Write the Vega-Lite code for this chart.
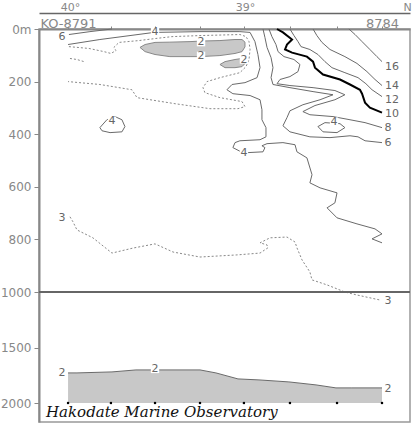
{
"$schema":"https://vega.github.io/schema/vega-lite/v6.json",
"width":371,"height":393,
"autosize":{"type":"none"},
"padding":{"left":39,"top":29,"right":2,"bottom":2},
"background":"white",
"config":{"view":{"stroke":"#999","strokeWidth":1.5},"axis":{"labelFont":"DejaVu Sans"}},
"datasets":{
"gray":[
{"id":"c1","lat":39.600,"d":70,"d2":70},{"id":"c1","lat":39.571,"d":59,"d2":86},{"id":"c1","lat":39.514,"d":51,"d2":97},{"id":"c1","lat":39.429,"d":50,"d2":105},{"id":"c1","lat":39.314,"d":48,"d2":105},{"id":"c1","lat":39.257,"d":46,"d2":105},{"id":"c1","lat":39.143,"d":44,"d2":101},{"id":"c1","lat":39.057,"d":40,"d2":93},{"id":"c1","lat":39.017,"d":40,"d2":86},{"id":"c1","lat":39.000,"d":50,"d2":68},
{"id":"c2","lat":39.143,"d":135,"d2":135},{"id":"c2","lat":39.114,"d":124,"d2":147},{"id":"c2","lat":39.057,"d":116,"d2":147},{"id":"c2","lat":39.017,"d":112,"d2":143},{"id":"c2","lat":39.000,"d":124,"d2":131},
{"id":"bottom","lat":40.011,"d":1729,"d2":2000},{"id":"bottom","lat":39.960,"d":1729,"d2":2000},{"id":"bottom","lat":39.760,"d":1720,"d2":2000},{"id":"bottom","lat":39.623,"d":1702,"d2":2000},{"id":"bottom","lat":39.531,"d":1702,"d2":2000},{"id":"bottom","lat":39.257,"d":1702,"d2":2000},{"id":"bottom","lat":39.166,"d":1729,"d2":2000},{"id":"bottom","lat":39.040,"d":1783,"d2":2000},{"id":"bottom","lat":38.920,"d":1792,"d2":2000},{"id":"bottom","lat":38.749,"d":1810,"d2":2000},{"id":"bottom","lat":38.594,"d":1837,"d2":2000},{"id":"bottom","lat":38.480,"d":1864,"d2":2000},{"id":"bottom","lat":38.389,"d":1864,"d2":2000},{"id":"bottom","lat":38.217,"d":1864,"d2":2000}
],
"contours":[
{"c":"6a","v":6,"o":1,"lat":40.006,"d":21},{"c":"6a","v":6,"o":2,"lat":39.886,"d":10},{"c":"6a","v":6,"o":3,"lat":39.760,"d":0},
{"c":"4a","v":4,"o":1,"lat":40.011,"d":59},{"c":"4a","v":4,"o":2,"lat":39.829,"d":40},{"c":"4a","v":4,"o":3,"lat":39.657,"d":25},{"c":"4a","v":4,"o":4,"lat":39.520,"d":13},{"c":"4a","v":4,"o":5,"lat":39.257,"d":10},{"c":"4a","v":4,"o":6,"lat":39.029,"d":10},{"c":"4a","v":4,"o":7,"lat":38.971,"d":13},{"c":"4a","v":4,"o":8,"lat":38.943,"d":48},{"c":"4a","v":4,"o":9,"lat":38.926,"d":97},{"c":"4a","v":4,"o":10,"lat":38.914,"d":147},{"c":"4a","v":4,"o":11,"lat":38.931,"d":185},{"c":"4a","v":4,"o":12,"lat":39.000,"d":204},{"c":"4a","v":4,"o":13,"lat":39.074,"d":211},{"c":"4a","v":4,"o":14,"lat":39.103,"d":231},{"c":"4a","v":4,"o":15,"lat":39.069,"d":246},{"c":"4a","v":4,"o":16,"lat":38.971,"d":253},{"c":"4a","v":4,"o":17,"lat":38.914,"d":269},{"c":"4a","v":4,"o":18,"lat":38.903,"d":307},{"c":"4a","v":4,"o":19,"lat":38.903,"d":345},{"c":"4a","v":4,"o":20,"lat":38.880,"d":375},{"c":"4a","v":4,"o":21,"lat":38.880,"d":410},{"c":"4a","v":4,"o":22,"lat":38.914,"d":421},{"c":"4a","v":4,"o":23,"lat":39.029,"d":425},{"c":"4a","v":4,"o":24,"lat":39.057,"d":432},{"c":"4a","v":4,"o":25,"lat":39.069,"d":451},{"c":"4a","v":4,"o":26,"lat":39.011,"d":471},{"c":"4a","v":4,"o":27,"lat":38.897,"d":467},{"c":"4a","v":4,"o":28,"lat":38.886,"d":451},{"c":"4a","v":4,"o":29,"lat":38.903,"d":444},{"c":"4a","v":4,"o":30,"lat":38.874,"d":436},{"c":"4a","v":4,"o":31,"lat":38.783,"d":432},{"c":"4a","v":4,"o":32,"lat":38.714,"d":440},{"c":"4a","v":4,"o":33,"lat":38.703,"d":467},{"c":"4a","v":4,"o":34,"lat":38.646,"d":490},{"c":"4a","v":4,"o":35,"lat":38.617,"d":554},{"c":"4a","v":4,"o":36,"lat":38.629,"d":585},{"c":"4a","v":4,"o":37,"lat":38.571,"d":604},{"c":"4a","v":4,"o":38,"lat":38.474,"d":623},{"c":"4a","v":4,"o":39,"lat":38.486,"d":661},{"c":"4a","v":4,"o":40,"lat":38.531,"d":680},{"c":"4a","v":4,"o":41,"lat":38.474,"d":718},{"c":"4a","v":4,"o":42,"lat":38.360,"d":741},{"c":"4a","v":4,"o":43,"lat":38.257,"d":760},{"c":"4a","v":4,"o":44,"lat":38.217,"d":779},{"c":"4a","v":4,"o":45,"lat":38.274,"d":798},{"c":"4a","v":4,"o":46,"lat":38.217,"d":813},
{"c":"4r","v":4,"o":1,"lat":38.583,"d":371},{"c":"4r","v":4,"o":2,"lat":38.543,"d":356},{"c":"4r","v":4,"o":3,"lat":38.457,"d":360},{"c":"4r","v":4,"o":4,"lat":38.429,"d":375},{"c":"4r","v":4,"o":5,"lat":38.474,"d":394},{"c":"4r","v":4,"o":6,"lat":38.554,"d":391},{"c":"4r","v":4,"o":7,"lat":38.583,"d":371},
{"c":"4l","v":4,"o":1,"lat":39.829,"d":375},{"c":"4l","v":4,"o":2,"lat":39.789,"d":345},{"c":"4l","v":4,"o":3,"lat":39.743,"d":333},{"c":"4l","v":4,"o":4,"lat":39.703,"d":345},{"c":"4l","v":4,"o":5,"lat":39.686,"d":371},{"c":"4l","v":4,"o":6,"lat":39.703,"d":391},{"c":"4l","v":4,"o":7,"lat":39.771,"d":394},{"c":"4l","v":4,"o":8,"lat":39.817,"d":387},{"c":"4l","v":4,"o":9,"lat":39.829,"d":375},
{"c":"6b","v":6,"o":1,"lat":38.897,"d":0},{"c":"6b","v":6,"o":2,"lat":38.886,"d":32},{"c":"6b","v":6,"o":3,"lat":38.874,"d":70},{"c":"6b","v":6,"o":4,"lat":38.851,"d":109},{"c":"6b","v":6,"o":5,"lat":38.840,"d":147},{"c":"6b","v":6,"o":6,"lat":38.851,"d":185},{"c":"6b","v":6,"o":7,"lat":38.840,"d":211},{"c":"6b","v":6,"o":8,"lat":38.743,"d":223},{"c":"6b","v":6,"o":9,"lat":38.611,"d":238},{"c":"6b","v":6,"o":10,"lat":38.497,"d":250},{"c":"6b","v":6,"o":11,"lat":38.571,"d":269},{"c":"6b","v":6,"o":12,"lat":38.669,"d":288},{"c":"6b","v":6,"o":13,"lat":38.743,"d":311},{"c":"6b","v":6,"o":14,"lat":38.760,"d":337},{"c":"6b","v":6,"o":15,"lat":38.783,"d":368},{"c":"6b","v":6,"o":16,"lat":38.743,"d":391},{"c":"6b","v":6,"o":17,"lat":38.629,"d":410},{"c":"6b","v":6,"o":18,"lat":38.514,"d":413},{"c":"6b","v":6,"o":19,"lat":38.400,"d":406},{"c":"6b","v":6,"o":20,"lat":38.354,"d":410},{"c":"6b","v":6,"o":21,"lat":38.314,"d":425},{"c":"6b","v":6,"o":22,"lat":38.217,"d":432},
{"c":"8","v":8,"o":1,"lat":38.863,"d":0},{"c":"8","v":8,"o":2,"lat":38.846,"d":29},{"c":"8","v":8,"o":3,"lat":38.823,"d":59},{"c":"8","v":8,"o":4,"lat":38.811,"d":86},{"c":"8","v":8,"o":5,"lat":38.777,"d":105},{"c":"8","v":8,"o":6,"lat":38.720,"d":116},{"c":"8","v":8,"o":7,"lat":38.686,"d":135},{"c":"8","v":8,"o":8,"lat":38.697,"d":162},{"c":"8","v":8,"o":9,"lat":38.743,"d":181},{"c":"8","v":8,"o":10,"lat":38.800,"d":192},{"c":"8","v":8,"o":11,"lat":38.817,"d":208},{"c":"8","v":8,"o":12,"lat":38.743,"d":215},{"c":"8","v":8,"o":13,"lat":38.611,"d":223},{"c":"8","v":8,"o":14,"lat":38.486,"d":234},{"c":"8","v":8,"o":15,"lat":38.429,"d":250},{"c":"8","v":8,"o":16,"lat":38.486,"d":269},{"c":"8","v":8,"o":17,"lat":38.600,"d":291},{"c":"8","v":8,"o":18,"lat":38.669,"d":314},{"c":"8","v":8,"o":19,"lat":38.629,"d":326},{"c":"8","v":8,"o":20,"lat":38.497,"d":333},{"c":"8","v":8,"o":21,"lat":38.400,"d":345},{"c":"8","v":8,"o":22,"lat":38.314,"d":356},{"c":"8","v":8,"o":23,"lat":38.217,"d":375},
{"c":"10","v":10,"o":1,"lat":38.817,"d":0},{"c":"10","v":10,"o":2,"lat":38.783,"d":13},{"c":"10","v":10,"o":3,"lat":38.731,"d":40},{"c":"10","v":10,"o":4,"lat":38.760,"d":59},{"c":"10","v":10,"o":5,"lat":38.771,"d":78},{"c":"10","v":10,"o":6,"lat":38.731,"d":90},{"c":"10","v":10,"o":7,"lat":38.646,"d":105},{"c":"10","v":10,"o":8,"lat":38.611,"d":124},{"c":"10","v":10,"o":9,"lat":38.600,"d":147},{"c":"10","v":10,"o":10,"lat":38.554,"d":173},{"c":"10","v":10,"o":11,"lat":38.457,"d":192},{"c":"10","v":10,"o":12,"lat":38.400,"d":211},{"c":"10","v":10,"o":13,"lat":38.343,"d":231},{"c":"10","v":10,"o":14,"lat":38.331,"d":246},{"c":"10","v":10,"o":15,"lat":38.314,"d":280},{"c":"10","v":10,"o":16,"lat":38.286,"d":299},{"c":"10","v":10,"o":17,"lat":38.217,"d":318},
{"c":"12","v":12,"o":1,"lat":38.743,"d":0},{"c":"12","v":12,"o":2,"lat":38.720,"d":25},{"c":"12","v":12,"o":3,"lat":38.697,"d":48},{"c":"12","v":12,"o":4,"lat":38.680,"d":67},{"c":"12","v":12,"o":5,"lat":38.629,"d":78},{"c":"12","v":12,"o":6,"lat":38.583,"d":97},{"c":"12","v":12,"o":7,"lat":38.543,"d":124},{"c":"12","v":12,"o":8,"lat":38.503,"d":147},{"c":"12","v":12,"o":9,"lat":38.429,"d":166},{"c":"12","v":12,"o":10,"lat":38.354,"d":185},{"c":"12","v":12,"o":11,"lat":38.309,"d":208},{"c":"12","v":12,"o":12,"lat":38.274,"d":231},{"c":"12","v":12,"o":13,"lat":38.217,"d":257},
{"c":"14","v":14,"o":1,"lat":38.611,"d":0},{"c":"14","v":14,"o":2,"lat":38.589,"d":25},{"c":"14","v":14,"o":3,"lat":38.560,"d":51},{"c":"14","v":14,"o":4,"lat":38.514,"d":78},{"c":"14","v":14,"o":5,"lat":38.429,"d":105},{"c":"14","v":14,"o":6,"lat":38.360,"d":131},{"c":"14","v":14,"o":7,"lat":38.303,"d":162},{"c":"14","v":14,"o":8,"lat":38.257,"d":192},{"c":"14","v":14,"o":9,"lat":38.217,"d":215},
{"c":"16","v":16,"o":1,"lat":38.406,"d":0},{"c":"16","v":16,"o":2,"lat":38.371,"d":21},{"c":"16","v":16,"o":3,"lat":38.331,"d":48},{"c":"16","v":16,"o":4,"lat":38.286,"d":78},{"c":"16","v":16,"o":5,"lat":38.246,"d":105},{"c":"16","v":16,"o":6,"lat":38.217,"d":124},
{"c":"3a","v":3,"o":1,"lat":40.006,"d":67},{"c":"3a","v":3,"o":2,"lat":39.891,"d":74},{"c":"3a","v":3,"o":3,"lat":39.806,"d":86},{"c":"3a","v":3,"o":4,"lat":39.766,"d":93},{"c":"3a","v":3,"o":5,"lat":39.737,"d":82},{"c":"3a","v":3,"o":6,"lat":39.749,"d":70},{"c":"3a","v":3,"o":7,"lat":39.720,"d":51},{"c":"3a","v":3,"o":8,"lat":39.606,"d":44},{"c":"3a","v":3,"o":9,"lat":39.509,"d":36},{"c":"3a","v":3,"o":10,"lat":39.417,"d":29},{"c":"3a","v":3,"o":11,"lat":39.257,"d":25},{"c":"3a","v":3,"o":12,"lat":39.029,"d":21},{"c":"3a","v":3,"o":13,"lat":38.994,"d":29},{"c":"3a","v":3,"o":14,"lat":38.977,"d":48},{"c":"3a","v":3,"o":15,"lat":38.971,"d":78},{"c":"3a","v":3,"o":16,"lat":38.977,"d":116},{"c":"3a","v":3,"o":17,"lat":38.994,"d":143},{"c":"3a","v":3,"o":18,"lat":39.029,"d":166},{"c":"3a","v":3,"o":19,"lat":39.143,"d":185},{"c":"3a","v":3,"o":20,"lat":39.217,"d":200},{"c":"3a","v":3,"o":21,"lat":39.240,"d":223},{"c":"3a","v":3,"o":22,"lat":39.229,"d":242},{"c":"3a","v":3,"o":23,"lat":39.143,"d":261},{"c":"3a","v":3,"o":24,"lat":39.017,"d":276},{"c":"3a","v":3,"o":25,"lat":39.000,"d":295},{"c":"3a","v":3,"o":26,"lat":39.040,"d":303},{"c":"3a","v":3,"o":27,"lat":39.200,"d":303},{"c":"3a","v":3,"o":28,"lat":39.400,"d":284},{"c":"3a","v":3,"o":29,"lat":39.617,"d":261},{"c":"3a","v":3,"o":30,"lat":39.646,"d":231},{"c":"3a","v":3,"o":31,"lat":39.829,"d":211},{"c":"3a","v":3,"o":32,"lat":40.011,"d":200},
{"c":"3s","v":3,"o":1,"lat":40.000,"d":112},{"c":"3s","v":3,"o":2,"lat":39.960,"d":116},{"c":"3s","v":3,"o":3,"lat":39.920,"d":124},
{"c":"3b","v":3,"o":1,"lat":40.000,"d":714},{"c":"3b","v":3,"o":2,"lat":39.983,"d":733},{"c":"3b","v":3,"o":3,"lat":39.960,"d":764},{"c":"3b","v":3,"o":4,"lat":39.869,"d":794},{"c":"3b","v":3,"o":5,"lat":39.760,"d":852},{"c":"3b","v":3,"o":6,"lat":39.640,"d":833},{"c":"3b","v":3,"o":7,"lat":39.514,"d":817},{"c":"3b","v":3,"o":8,"lat":39.411,"d":848},{"c":"3b","v":3,"o":9,"lat":39.257,"d":867},{"c":"3b","v":3,"o":10,"lat":39.046,"d":859},{"c":"3b","v":3,"o":11,"lat":38.914,"d":852},{"c":"3b","v":3,"o":12,"lat":38.869,"d":832},{"c":"3b","v":3,"o":13,"lat":38.874,"d":821},{"c":"3b","v":3,"o":14,"lat":38.914,"d":813},{"c":"3b","v":3,"o":15,"lat":38.857,"d":794},{"c":"3b","v":3,"o":16,"lat":38.760,"d":791},{"c":"3b","v":3,"o":17,"lat":38.714,"d":810},{"c":"3b","v":3,"o":18,"lat":38.703,"d":832},{"c":"3b","v":3,"o":19,"lat":38.674,"d":878},{"c":"3b","v":3,"o":20,"lat":38.629,"d":924},{"c":"3b","v":3,"o":21,"lat":38.617,"d":954},{"c":"3b","v":3,"o":22,"lat":38.531,"d":973},{"c":"3b","v":3,"o":23,"lat":38.429,"d":1000},{"c":"3b","v":3,"o":24,"lat":38.360,"d":1027},{"c":"3b","v":3,"o":25,"lat":38.229,"d":1072},
{"c":"2b","v":2,"o":1,"lat":40.011,"d":1729},{"c":"2b","v":2,"o":2,"lat":39.960,"d":1729},{"c":"2b","v":2,"o":3,"lat":39.760,"d":1720},{"c":"2b","v":2,"o":4,"lat":39.623,"d":1702},{"c":"2b","v":2,"o":5,"lat":39.531,"d":1702},{"c":"2b","v":2,"o":6,"lat":39.257,"d":1702},{"c":"2b","v":2,"o":7,"lat":39.166,"d":1729},{"c":"2b","v":2,"o":8,"lat":39.040,"d":1783},{"c":"2b","v":2,"o":9,"lat":38.920,"d":1792},{"c":"2b","v":2,"o":10,"lat":38.749,"d":1810},{"c":"2b","v":2,"o":11,"lat":38.594,"d":1837},{"c":"2b","v":2,"o":12,"lat":38.480,"d":1864},{"c":"2b","v":2,"o":13,"lat":38.389,"d":1864},{"c":"2b","v":2,"o":14,"lat":38.217,"d":1864}
],
"labels":[
{"t":"6","lat":40.046,"d":30,"bg":false},{"t":"4","lat":39.514,"d":11,"bg":true},{"t":"2","lat":39.251,"d":50,"bg":true},{"t":"2","lat":39.251,"d":102,"bg":true},{"t":"2","lat":39.006,"d":116,"bg":true},
{"t":"16","lat":38.160,"d":143,"bg":false},{"t":"14","lat":38.160,"d":215,"bg":false},{"t":"12","lat":38.160,"d":269,"bg":false},{"t":"10","lat":38.160,"d":322,"bg":false},{"t":"8","lat":38.183,"d":375,"bg":false},{"t":"6","lat":38.183,"d":432,"bg":false},
{"t":"4","lat":38.491,"d":352,"bg":true},{"t":"4","lat":39.760,"d":349,"bg":true},{"t":"4","lat":39.006,"d":471,"bg":true},
{"t":"3","lat":40.046,"d":718,"bg":false},{"t":"3","lat":38.183,"d":1081,"bg":false},
{"t":"2","lat":40.046,"d":1729,"bg":false},{"t":"2","lat":39.514,"d":1693,"bg":true},{"t":"2","lat":38.183,"d":1873,"bg":false}
],
"stations":[
{"lat":40.011,"d":2000},{"lat":39.766,"d":2000},{"lat":39.514,"d":2000},{"lat":39.257,"d":2000},{"lat":39.006,"d":2000},{"lat":38.743,"d":2000},{"lat":38.474,"d":2000},{"lat":38.217,"d":2000}
],
"rule":[{"lat":40.177,"lat2":38.057,"d":1000}],
"credit":[{"lat":40.137,"d":2126,"t":"Hakodate Marine Observatory"}]
},
"encoding":{
"x":{"field":"lat","type":"quantitative","scale":{"domain":[40.177,38.057],"nice":false,"zero":false},"axis":null},
"y":{"field":"d","type":"quantitative","scale":{"domain":[0,1000,2000,2171],"range":[0,263,374,393],"nice":false,"zero":false},
   "axis":{"orient":"left","values":[0,200,400,600,800,1000,1500,2000],"format":"d",
    "labelExpr":"datum.value == 0 ? '0m' : datum.label",
    "tickSize":5,"tickColor":"#888","domainColor":"#888","domainWidth":2,"labelPadding":3,
    "labelFontSize":12,"labelColor":"#888","grid":false,"title":null,"labelOverlap":false,"labelBound":false,"labelFlush":false}}
},
"resolve":{"axis":{"x":"independent"}},
"layer":[
{"data":{"name":"gray"},"transform":[{"filter":"datum.id != 'bottom'"}],
 "mark":{"type":"area","fill":"#c8c8c8","stroke":"#888","strokeWidth":1},
 "encoding":{"y2":{"field":"d2"},"detail":{"field":"id"}}},
{"data":{"name":"gray"},"transform":[{"filter":"datum.id == 'bottom'"}],
 "mark":{"type":"area","fill":"#c8c8c8"},
 "encoding":{"y2":{"field":"d2"}}},
{"data":{"name":"contours"},"transform":[{"filter":"datum.v != 3 && datum.v != 10"}],
 "mark":{"type":"line","stroke":"#6a6a6a","strokeWidth":1},
 "encoding":{
  "x":{"field":"lat","type":"quantitative","scale":{"domain":[40.177,38.057],"nice":false,"zero":false},
   "axis":{"orient":"top","values":[40.011,39.766,39.514,39.257,39.006,38.743,38.474,38.217],
    "labelExpr":"datum.value > 40 ? 'KO-8791' : (datum.value < 38.3 ? '8784' : '')",
    "tickSize":3,"tickColor":"#888","domainColor":"#888","domainWidth":2,"labelPadding":-1,"labelBaseline":"alphabetic",
    "labelFontSize":13,"labelColor":"#888","grid":false,"title":null,"labelOverlap":false,"labelBound":false,"labelFlush":false}},
  "detail":{"field":"c"},"order":{"field":"o","type":"quantitative"}}},
{"data":{"name":"contours"},"transform":[{"filter":"datum.v == 10"}],
 "mark":{"type":"line","stroke":"black","strokeWidth":2},
 "encoding":{"detail":{"field":"c"},"order":{"field":"o","type":"quantitative"}}},
{"data":{"name":"contours"},"transform":[{"filter":"datum.v == 3"}],
 "mark":{"type":"line","stroke":"#888","strokeWidth":1,"strokeDash":[2,2]},
 "encoding":{"detail":{"field":"c"},"order":{"field":"o","type":"quantitative"}}},
{"data":{"name":"rule"},
 "mark":{"type":"rule","stroke":"#666","strokeWidth":2},
 "encoding":{"x2":{"field":"lat2"}}},
{"data":{"name":"stations"},
 "mark":{"type":"square","size":5,"color":"black","filled":true,"opacity":1},
 "encoding":{
  "x":{"field":"lat","type":"quantitative","scale":{"domain":[40.177,38.057],"nice":false,"zero":false},
   "axis":{"orient":"top","offset":16,"values":[40,39,38.074],
    "labelExpr":"datum.value == 40 ? '40°' : (datum.value == 39 ? '39°' : 'N')",
    "ticks":false,"domainColor":"#666","domainWidth":1.5,"labelPadding":3,"labelBaseline":"alphabetic",
    "labelFontSize":11,"labelColor":"#888","grid":false,"title":null,"labelOverlap":false,"labelBound":false,"labelFlush":false}}}},
{"data":{"name":"labels"},"transform":[{"filter":"datum.bg"}],
 "mark":{"type":"square","size":70,"color":"white","filled":true,"opacity":1}},
{"data":{"name":"labels"},
 "mark":{"type":"text","font":"DejaVu Sans","fontSize":11,"fill":"#666","align":"center","baseline":"middle"},
 "encoding":{"text":{"field":"t"}}},
{"data":{"name":"credit"},
 "mark":{"type":"text","font":"DejaVu Serif","fontStyle":"italic","fontSize":15,"fill":"#111","align":"left","baseline":"alphabetic"},
 "encoding":{"text":{"field":"t"}}}
]
}
